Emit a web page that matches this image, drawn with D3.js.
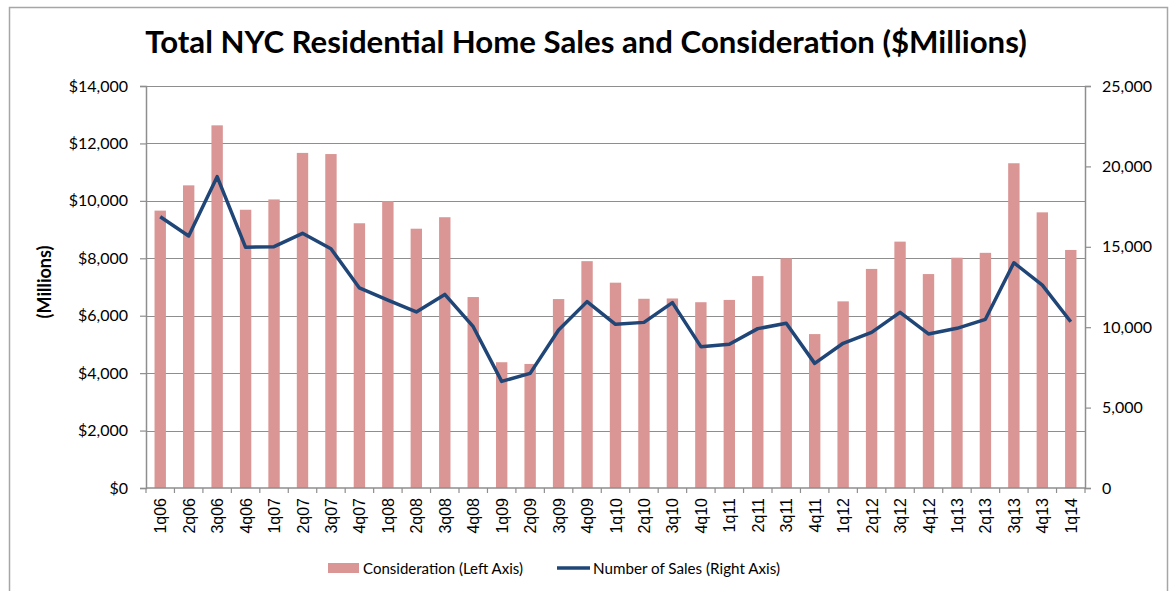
<!DOCTYPE html>
<html>
<head>
<meta charset="utf-8">
<script src="https://cdn.jsdelivr.net/npm/d3@7"></script>
<style>
  body { margin: 0; background: #fff; }
  svg { display: block; }
</style>
</head>
<body>
<div id="chart"></div>
<script>
// quarters
const quarters = ["1q06","2q06","3q06","4q06","1q07","2q07","3q07","4q07",
  "1q08","2q08","3q08","4q08","1q09","2q09","3q09","4q09",
  "1q10","2q10","3q10","4q10","1q11","2q11","3q11","4q11",
  "1q12","2q12","3q12","4q12","1q13","2q13","3q13","4q13","1q14"];

// consideration, $ millions (left axis)
const consideration = [9660, 10540, 12630, 9690, 10050, 11670, 11630, 9220,
  9990, 9030, 9430, 6650, 4380, 4320, 6580, 7900,
  7150, 6590, 6600, 6470, 6550, 7380, 8000, 5360,
  6500, 7630, 8580, 7450, 8020, 8190, 11310, 9600, 8290];

// number of sales (right axis)
const sales = [16870, 15670, 19360, 14970, 15010, 15840, 14880, 12440,
  11690, 10950, 12040, 10030, 6630, 7130, 9830, 11590,
  10180, 10300, 11530, 8790, 8940, 9910, 10240, 7750,
  9000, 9680, 10920, 9580, 9930, 10490, 14010, 12620, 10340];

const leftTicks = [0, 2000, 4000, 6000, 8000, 10000, 12000, 14000];
const rightTicks = [0, 5000, 10000, 15000, 20000, 25000];

const W = 1172, H = 591;
const margin = { top: 86, right: 87, bottom: 103, left: 146 };
const width = W - margin.left - margin.right;
const height = H - margin.top - margin.bottom;

const barColor = "#d99694";
const lineColor = "#1f4677";
const gridColor = "#8e8e8e";
const calibri = "Lato, 'Open Sans', sans-serif";

const svgRoot = d3.select("#chart").append("svg")
    .attr("width", W)
    .attr("height", H);

// outer chart border
svgRoot.append("rect")
    .attr("x", 9.5).attr("y", 7.5)
    .attr("width", 1158).attr("height", 600)
    .attr("fill", "none")
    .attr("stroke", "#a6a6a6")
    .attr("stroke-width", 1.5);

const svg = svgRoot.append("g")
    .attr("transform", `translate(${margin.left},${margin.top})`);

const x = d3.scaleBand()
    .domain(quarters)
    .range([0, width])
    .paddingInner(0)
    .paddingOuter(0);

const yL = d3.scaleLinear().domain([0, 14000]).range([height, 0]);
const yR = d3.scaleLinear().domain([0, 25000]).range([height, 0]);

// gridlines
svg.append("g")
    .selectAll("line")
    .data(leftTicks.slice(1))
    .enter()
    .append("line")
    .attr("x1", 0).attr("x2", width)
    .attr("y1", d => Math.round(yL(d)) + 0.5)
    .attr("y2", d => Math.round(yL(d)) + 0.5)
    .attr("stroke", gridColor)
    .attr("stroke-width", 1.2);

// bars
const barW = x.bandwidth() / 2.5;
svg.selectAll(".bar")
    .data(quarters)
    .enter()
    .append("rect")
    .attr("class", "bar")
    .attr("x", d => x(d) + (x.bandwidth() - barW) / 2)
    .attr("y", (d, i) => yL(consideration[i]))
    .attr("width", barW)
    .attr("height", (d, i) => height - yL(consideration[i]))
    .attr("fill", barColor);

// left axis
const leftAxis = svg.append("g")
    .call(d3.axisLeft(yL).tickValues(leftTicks).tickSize(6).tickPadding(12)
        .tickFormat(d => "$" + d3.format(",")(d)));
leftAxis.select(".domain").attr("stroke", gridColor).attr("stroke-width", 1.5);
leftAxis.selectAll(".tick line").attr("stroke", gridColor).attr("stroke-width", 1.2);
leftAxis.selectAll("text")
    .attr("font-family", calibri)
    .attr("font-size", "16px")
    .attr("fill", "#000");

// right axis
const rightAxis = svg.append("g")
    .attr("transform", `translate(${width},0)`)
    .call(d3.axisRight(yR).tickValues(rightTicks).tickSize(6).tickPadding(11)
        .tickFormat(d3.format(",")));
rightAxis.select(".domain").attr("stroke", gridColor).attr("stroke-width", 1.5);
rightAxis.selectAll(".tick line").attr("stroke", gridColor).attr("stroke-width", 1.2);
rightAxis.selectAll("text")
    .attr("font-family", calibri)
    .attr("font-size", "16px")
    .attr("fill", "#000");

// bottom axis
const bottom = svg.append("g")
    .attr("transform", `translate(0,${height})`);
bottom.append("line")
    .attr("x1", 0).attr("x2", width)
    .attr("y1", 0).attr("y2", 0)
    .attr("stroke", gridColor).attr("stroke-width", 1.5);
bottom.selectAll(".xtick")
    .data(quarters.concat(["end"]))
    .enter()
    .append("line")
    .attr("class", "xtick")
    .attr("x1", (d, i) => i < quarters.length ? x(d) : width)
    .attr("x2", (d, i) => i < quarters.length ? x(d) : width)
    .attr("y1", 0).attr("y2", 5)
    .attr("stroke", gridColor).attr("stroke-width", 1.2);
bottom.selectAll(".xlabel")
    .data(quarters)
    .enter()
    .append("text")
    .attr("class", "xlabel")
    .attr("transform", d => `translate(${x(d) + x.bandwidth() / 2 + 6},10) rotate(-90)`)
    .attr("text-anchor", "end")
    .attr("font-family", "'Liberation Sans', Arial, sans-serif")
    .attr("font-size", "16px")
    .text(d => d);

// line
const line = d3.line()
    .x((d, i) => x(quarters[i]) + x.bandwidth() / 2)
    .y(d => yR(d));
svg.append("path")
    .datum(sales)
    .attr("d", line)
    .attr("fill", "none")
    .attr("stroke", lineColor)
    .attr("stroke-width", 3.5)
    .attr("stroke-linejoin", "round");

// title
const title = svgRoot.append("text")
    .attr("x", 586)
    .attr("y", 53)
    .attr("text-anchor", "middle")
    .attr("font-family", calibri)
    .attr("font-weight", "bold")
    .attr("font-size", "28px")
    .text("Total NYC Residential Home Sales and Consideration ($Millions)");
const tw = title.node().getComputedTextLength();
title.attr("font-size", (28 * 882 / tw) + "px");

// y label
svgRoot.append("text")
    .attr("transform", "translate(51,282) rotate(-90)")
    .attr("text-anchor", "middle")
    .attr("font-family", calibri)
    .attr("font-weight", "bold")
    .attr("font-size", "18px")
    .text("(Millions)");

// legend
const legend = svgRoot.append("g");
legend.append("rect")
    .attr("x", 328).attr("y", 563)
    .attr("width", 31).attr("height", 10)
    .attr("fill", barColor);
legend.append("text")
    .attr("x", 363).attr("y", 574)
    .attr("font-family", calibri)
    .attr("font-size", "15.5px")
    .attr("textLength", 160)
    .attr("lengthAdjust", "spacingAndGlyphs")
    .text("Consideration (Left Axis)");
legend.append("line")
    .attr("x1", 557).attr("x2", 590)
    .attr("y1", 568).attr("y2", 568)
    .attr("stroke", lineColor).attr("stroke-width", 3.5);
legend.append("text")
    .attr("x", 593).attr("y", 574)
    .attr("font-family", calibri)
    .attr("font-size", "15.5px")
    .attr("textLength", 187)
    .attr("lengthAdjust", "spacingAndGlyphs")
    .text("Number of Sales (Right Axis)");
</script>
</body>
</html>
